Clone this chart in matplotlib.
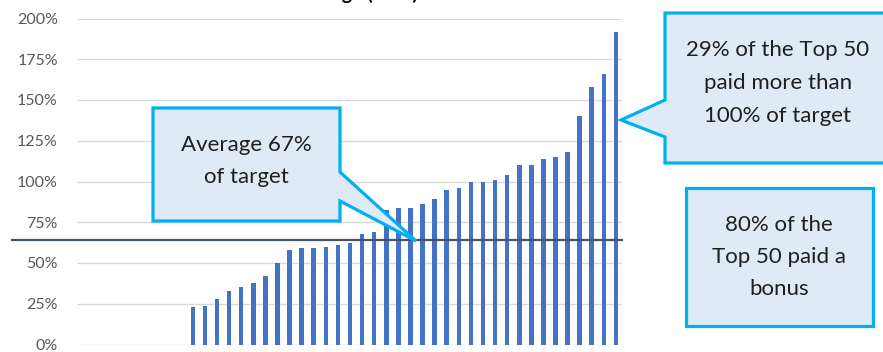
import matplotlib
matplotlib.use("Agg")
import matplotlib.pyplot as plt
from matplotlib.patches import Polygon
from matplotlib.lines import Line2D
from matplotlib import transforms
from matplotlib.ticker import FuncFormatter, FixedLocator

# ---- data ----
bonus_pct_of_target = [0, 0, 0, 0, 0, 0, 0, 0, 0,
                       23, 23.5, 28, 33, 35, 38, 42, 50, 58, 59, 59, 60, 61, 62.5,
                       68, 69, 82.5, 84, 84, 86, 89, 95, 96, 100, 100, 101, 104,
                       110, 110, 114, 115, 118, 140, 158, 166, 192]
average_line = 64
y_ticks = [0, 25, 50, 75, 100, 125, 150, 175, 200]
title_text = "Bonus Percentage (CEO)"
callout_avg = "Average 67%\nof target"
callout_over = "29% of the Top 50\npaid more than\n100% of target"
callout_paid = "80% of the\nTop 50 paid a\nbonus"

W, H = 883, 352
plt.rcParams['font.family'] = ['Lato', 'DejaVu Sans']

fig = plt.figure(figsize=(W / 100, H / 100), dpi=100)
ax = fig.add_axes([78 / W, 7.5 / H, 544 / W, 326 / H])

x = list(range(len(bonus_pct_of_target)))
ax.bar(x, bonus_pct_of_target, width=0.38, color='#4472C4', zorder=2)
ax.set_xlim(-0.5, len(x) - 0.5)
ax.set_ylim(0, 200)
ax.yaxis.set_major_locator(FixedLocator(y_ticks))
ax.yaxis.set_major_formatter(FuncFormatter(lambda v, p: f"{v:.0f}%"))
ax.grid(axis='y', color='#D9D9D9', lw=1, zorder=0)
ax.set_axisbelow(True)
ax.set_xticks([])
ax.tick_params(axis='y', length=0, pad=14.5, labelsize=11.5, labelcolor='#595959')
for s in ax.spines.values():
    s.set_visible(False)


def px(xp, yp):
    return (xp / W, 1 - yp / H)


# average line (extends left of the axes)
tr = transforms.blended_transform_factory(fig.transFigure, ax.transData)
fig.add_artist(Line2D([12 / W, 622 / W], [average_line, average_line],
                      transform=tr, color='#44546A', lw=1.6, zorder=5))

# title (mostly clipped at top; only descenders visible)
fig.text(418 / W, 1 + 0.5 / H, title_text, ha='right', va='baseline',
         fontsize=14, fontweight='bold', color='black')

edge = '#00B0F0'
face = '#DEEBF7'
txtc = '#1F1F1F'

# callout 1
pts1 = [(153, 108), (340, 108), (340, 172), (416, 241), (340, 201),
        (340, 221), (153, 221)]
fig.add_artist(Polygon([px(*p) for p in pts1], closed=True, transform=fig.transFigure,
                       facecolor=face, edgecolor=edge, lw=2.3, zorder=6, joinstyle='miter'))
fig.text(*px(246, 161), callout_avg, ha='center', va='center', fontsize=16,
         color=txtc, linespacing=1.75, zorder=7)

# callout 2
pts2 = [(665, 13), (890, 13), (890, 163), (665, 163), (665, 137),
        (621, 120), (665, 100)]
fig.add_artist(Polygon([px(*p) for p in pts2], closed=True, transform=fig.transFigure,
                       facecolor=face, edgecolor=edge, lw=2.3, zorder=6, joinstyle='miter'))
fig.text(*px(778, 83), callout_over, ha='center', va='center', fontsize=16,
         color=txtc, linespacing=1.8, zorder=7)

# callout 3
pts3 = [(686, 188), (873, 188), (873, 326), (686, 326)]
fig.add_artist(Polygon([px(*p) for p in pts3], closed=True, transform=fig.transFigure,
                       facecolor=face, edgecolor=edge, lw=2.3, zorder=6, joinstyle='miter'))
fig.text(*px(779, 257), callout_paid, ha='center', va='center', fontsize=16,
         color=txtc, linespacing=1.75, zorder=7)

fig.savefig('out.png', dpi=100)
